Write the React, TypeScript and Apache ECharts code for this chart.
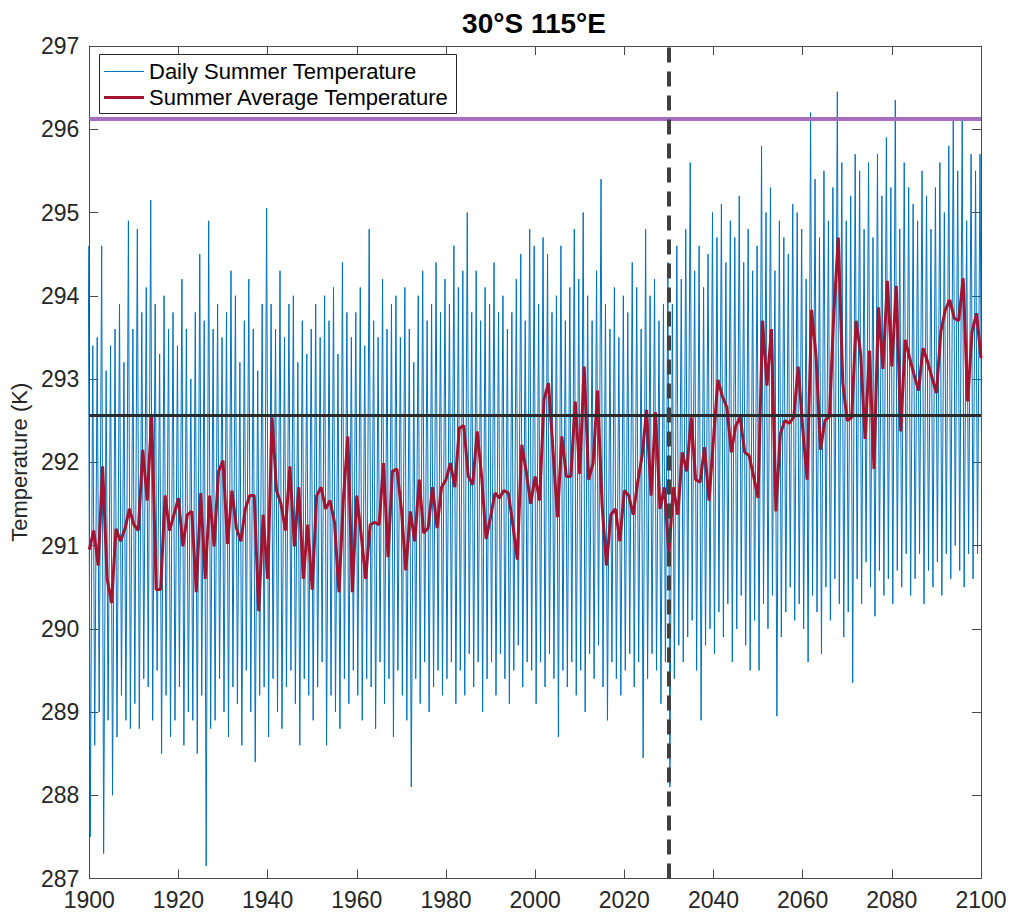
import React, { useEffect, useRef } from "react";
import * as echarts from "echarts";

// ---------------- data ----------------
const startYear = 1900;

const avgTemp = [
  290.95, 291.18, 290.76, 291.95, 290.6, 290.31, 291.2, 291.05, 291.2, 291.44,
  291.25, 291.18, 292.15, 291.54, 292.57, 290.47, 290.47, 291.6, 291.18, 291.37,
  291.57, 290.99, 291.37, 291.41, 290.44, 291.63, 290.6, 291.6, 290.99, 291.89,
  292.02, 291.02, 291.66, 291.21, 291.05, 291.44, 291.6, 291.6, 290.21, 291.37,
  290.6, 292.54, 291.66, 291.5, 291.18, 291.95, 290.99, 291.7, 290.6, 291.25,
  290.47, 291.6, 291.7, 291.44, 291.54, 291.28, 290.44, 291.57, 292.31, 290.44,
  291.6, 291.12, 290.6, 291.25, 291.28, 291.25, 291.99, 290.86, 291.89, 291.92,
  291.44, 290.7, 291.41, 291.05, 291.79, 291.15, 291.21, 291.7, 291.21, 291.7,
  291.79, 291.99, 291.7, 292.41, 292.44, 291.83, 291.73, 292.37, 291.83, 291.08,
  291.34, 291.63, 291.57, 291.66, 291.63, 291.25, 290.83, 292.21, 291.89, 291.5,
  291.83, 291.54, 292.76, 292.95, 292.15, 291.34, 292.31, 291.83, 291.83, 292.73,
  291.86, 293.15, 291.79, 291.99, 292.86, 291.5, 290.76, 291.37, 291.44, 291.05,
  291.66, 291.6, 291.37, 291.76, 292.08, 292.63, 291.6, 292.6, 291.44, 291.7,
  290.89, 291.7, 291.37, 292.12, 291.89, 292.54, 291.79, 291.76, 292.18, 291.54,
  292.28, 292.99, 292.79, 292.66, 292.12, 292.44, 292.54, 292.12, 292.08, 291.83,
  291.57, 293.7, 292.92, 293.6, 291.41, 292.34, 292.5, 292.47, 292.54, 293.15,
  292.41, 291.79, 293.83, 293.28, 292.15, 292.5, 292.55, 293.8, 294.7, 292.95,
  292.5, 292.54, 293.7, 293.31, 292.28, 293.34, 291.92, 293.86, 293.12, 294.18,
  293.15, 294.12, 292.37, 293.47, 293.25, 293.05, 292.86, 293.37, 293.21, 293.02,
  292.83, 293.57, 293.83, 293.95, 293.73, 293.7, 294.21, 292.73, 293.57, 293.79,
  293.25,
];

const dailyHigh = [
  294.6, 293.4, 293.5, 294.6, 293.1, 293.4, 293.6, 293.9, 293.2, 294.9,
  293.6, 294.8, 293.8, 294.1, 295.15, 293.9, 293.3, 294.0, 293.6, 293.8,
  293.4, 294.2, 293.6, 293.0, 293.8, 294.5, 293.7, 294.9, 293.6, 293.9,
  293.5, 293.8, 294.3, 294.0, 293.2, 293.7, 294.2, 293.6, 293.1, 293.9,
  295.05, 293.9, 293.6, 294.3, 293.5, 293.9, 294.0, 293.2, 293.7, 293.3,
  293.6, 293.9, 293.5, 294.0, 293.7, 294.1, 293.3, 294.4, 293.8, 293.5,
  293.8, 294.1, 293.4, 294.8, 293.7, 293.5, 294.2, 293.6, 293.9, 294.0,
  293.5, 294.1, 293.6, 293.2, 294.0, 294.3, 293.7, 293.9, 294.4, 293.8,
  294.2, 293.9, 294.6, 294.1, 294.3, 295.0, 293.8, 294.3, 293.7, 294.1,
  293.9, 294.4, 293.8, 294.0, 293.6, 293.8, 294.2, 294.5, 293.7, 294.8,
  294.6, 293.9, 294.7, 294.5, 293.8, 294.0, 294.6, 293.7, 294.1, 294.8,
  294.2, 295.0, 294.0, 293.7, 294.3, 295.4, 293.9, 293.6, 294.1, 293.5,
  294.0, 293.8, 294.4, 294.1, 293.6, 294.8, 294.0, 294.2, 293.7, 293.9,
  294.4, 293.9, 294.6, 294.2, 294.8, 295.6, 294.3, 294.6, 294.1, 294.5,
  295.0, 294.7, 295.1, 294.4, 294.9, 294.7, 295.2, 294.4, 294.8, 294.3,
  294.6, 295.8, 295.0, 295.3, 294.3, 294.9, 294.7, 294.5, 295.1, 295.0,
  294.8, 294.2, 296.2, 295.4, 294.7, 295.5, 294.9, 295.3, 296.45, 295.6,
  294.9, 295.2, 295.7, 295.5, 294.8, 295.6, 294.7, 295.7, 295.2, 295.9,
  295.3, 296.35, 294.8, 295.6, 295.3, 295.1, 294.9, 295.5, 295.2, 294.8,
  295.3, 295.6, 295.0, 295.8, 296.1, 295.5, 296.1, 294.9, 295.7, 295.5,
  295.7,
];

const dailyLow = [
  287.5, 288.6, 289.0, 287.3, 288.9, 288.0, 288.7, 289.2, 288.9, 288.8,
  289.1, 288.8, 289.4, 289.3, 288.9, 289.5, 288.5, 289.2, 288.7, 288.9,
  289.3, 288.6, 289.0, 288.9, 288.5, 289.2, 287.15, 288.8, 288.9, 289.4,
  289.0, 288.7, 289.3, 289.1, 288.6, 289.5, 289.0, 288.4, 289.2, 289.3,
  288.7, 289.4, 289.0, 288.8, 289.3, 289.5, 289.1, 288.6, 289.4, 289.2,
  288.9, 289.3, 289.6, 288.6, 289.2, 289.0, 288.8, 289.4, 289.1, 289.5,
  289.2, 288.9, 289.4, 289.3, 288.8, 289.6, 289.1, 289.4, 288.7, 289.5,
  289.2, 288.9, 288.1, 289.4, 289.1, 289.6, 289.0, 289.3, 289.5, 289.2,
  289.4, 289.6, 289.1, 289.5, 289.2, 289.7, 289.3, 289.6, 289.0, 289.4,
  289.6, 289.2, 289.7, 289.4, 289.1, 289.5, 289.8, 289.3, 289.6, 289.5,
  289.1, 289.6, 289.3, 289.7, 289.4, 288.7, 289.5, 289.3, 289.6, 289.2,
  289.5, 289.0, 289.7, 289.4, 289.8, 289.3, 288.9, 289.6, 289.4, 289.2,
  289.5, 289.7, 289.3, 289.6, 288.45, 289.4, 289.7, 289.5, 289.1, 289.6,
  288.1, 289.4, 289.8, 289.6, 289.9, 290.1, 289.5, 288.9, 289.8, 290.0,
  289.7, 290.2, 289.9, 290.3, 289.6, 290.0, 290.4, 289.8, 289.5, 290.1,
  289.5, 290.3, 290.0, 290.4, 288.95, 289.9, 290.2, 290.5, 290.1, 290.3,
  290.0, 289.6, 290.4, 290.2, 289.7, 290.5, 290.1, 290.6, 290.3, 289.9,
  290.2, 289.35, 290.6, 290.3, 290.8, 290.5, 290.15, 290.7, 290.4, 290.6,
  290.3, 290.7, 290.5, 290.9, 290.4, 290.6, 290.9, 290.3, 290.7, 290.5,
  290.8, 290.4, 290.9, 290.6, 291.0, 290.7, 290.5, 290.9, 290.6, 290.9,
  291.0,
];

const thresholdTemp = 296.13;
const baselineTemp = 292.57;
const markerYear = 2030;

const xMin = 1900;
const xMax = 2100;
const xStep = 20;
const yMin = 287;
const yMax = 297;
const yStep = 1;

const titleText = "30°S 115°E";
const yAxisName = "Temperature (K)";
const dailyName = "Daily Summer Temperature";
const avgName = "Summer Average Temperature";

const BLUE = "#0072BD";
const RED = "#A2142F";
const PURPLE = "#A66EBF";
const AXIS = "#262626";
const FONT = "'Liberation Sans', Arial, Helvetica, sans-serif";

export default function App() {
  const ref = useRef<HTMLDivElement>(null);

  useEffect(() => {
    if (!ref.current) return;
    const chart = echarts.init(ref.current, undefined, { renderer: "svg" });

    const dailyData: [number, number][] = [];
    dailyHigh.forEach((hi, i) => {
      const yr = startYear + i;
      dailyData.push([yr - 0.22, hi]);
      dailyData.push([yr + 0.22, dailyLow[i]]);
    });
    const avgData = avgTemp.map((v, i) => [startYear + i, v]);

    const axisLine = { show: true, lineStyle: { color: "#4a4a4a", width: 1 } };
    const axisTick = { show: true, inside: true, length: 9, lineStyle: { color: "#4a4a4a", width: 1 } };

    chart.setOption({
      animation: false,
      textStyle: { fontFamily: FONT },
      title: {
        text: titleText,
        left: 534,
        top: 9,
        padding: 0,
        textAlign: "center",
        textStyle: { fontSize: 28, fontWeight: "bold", color: "#000", fontFamily: FONT },
      },
      grid: { left: 87.5, right: 30, top: 46, bottom: 36.5, containLabel: false },
      xAxis: [
        {
          type: "value",
          min: xMin,
          max: xMax,
          interval: xStep,
          position: "bottom",
          axisLine,
          axisTick,
          splitLine: { show: false },
          axisLabel: { color: AXIS, fontSize: 23, margin: 10, fontFamily: FONT, formatter: (v: number) => String(v) },
        },
        {
          type: "value",
          min: xMin,
          max: xMax,
          interval: xStep,
          position: "top",
          axisLine,
          axisTick,
          splitLine: { show: false },
          axisLabel: { show: false },
        },
      ],
      yAxis: [
        {
          type: "value",
          min: yMin,
          max: yMax,
          interval: yStep,
          position: "left",
          axisLine,
          axisTick,
          splitLine: { show: false },
          axisLabel: { color: AXIS, fontSize: 23, margin: 10, fontFamily: FONT },
          name: yAxisName,
          nameLocation: "middle",
          nameGap: 53,
          nameTextStyle: { color: AXIS, fontSize: 22, fontFamily: FONT },
        },
        {
          type: "value",
          min: yMin,
          max: yMax,
          interval: yStep,
          position: "right",
          axisLine,
          axisTick,
          splitLine: { show: false },
          axisLabel: { show: false },
        },
      ],
      series: [
        {
          name: dailyName,
          type: "line",
          data: dailyData,
          symbol: "none",
          showSymbol: false,
          lineStyle: { color: BLUE, width: 1 },
          z: 2,
        },
        {
          name: avgName,
          type: "line",
          data: avgData,
          symbol: "none",
          showSymbol: false,
          lineStyle: { color: RED, width: 3 },
          z: 3,
        },
        {
          name: "refs",
          type: "line",
          data: [],
          z: 4,
          markLine: {
            silent: true,
            symbol: ["none", "none"],
            label: { show: false },
            data: [
              { yAxis: thresholdTemp, lineStyle: { color: PURPLE, width: 4, type: "solid" } },
              { yAxis: baselineTemp, lineStyle: { color: "#2a2a2a", width: 3, type: "solid" } },
              { xAxis: markerYear, lineStyle: { color: "#404040", width: 4, type: [15, 9] } },
            ],
          },
        },
      ],
      graphic: [
        {
          type: "group",
          z: 100,
          children: [
            {
              type: "rect",
              shape: { x: 99.5, y: 54.5, width: 357, height: 59 },
              style: { fill: "#fff", stroke: "#262626", lineWidth: 1 },
            },
            {
              type: "line",
              shape: { x1: 104, y1: 71.5, x2: 144, y2: 71.5 },
              style: { stroke: BLUE, lineWidth: 1 },
            },
            {
              type: "text",
              x: 149,
              y: 71.5,
              style: { text: dailyName, fontSize: 22, fill: "#000", fontFamily: FONT, verticalAlign: "middle", align: "left" },
            },
            {
              type: "line",
              shape: { x1: 104, y1: 97.5, x2: 144, y2: 97.5 },
              style: { stroke: RED, lineWidth: 3 },
            },
            {
              type: "text",
              x: 149,
              y: 97.5,
              style: { text: avgName, fontSize: 22, fill: "#000", fontFamily: FONT, verticalAlign: "middle", align: "left" },
            },
          ],
        },
      ],
    });

    return () => chart.dispose();
  }, []);

  return (
    <div
      ref={ref}
      style={{ position: "fixed", left: 0, top: 0, width: 1011, height: 915, background: "#fff" }}
    />
  );
}
